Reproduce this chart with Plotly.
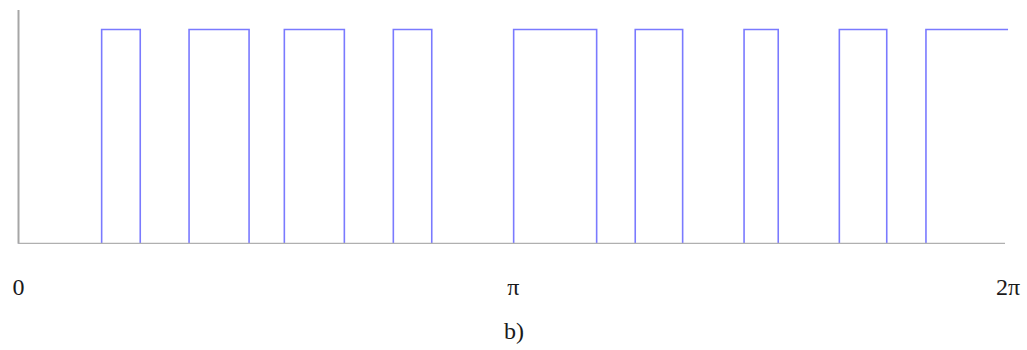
import math
import plotly.graph_objects as go

# Switching instants (radians) of the pulse train; the level toggles at each one,
# starting low at 0 and finishing high at 2π.
switch_angles = [0.528, 0.773, 1.083, 1.464, 1.688, 2.069, 2.380, 2.624,
                 3.144, 3.671, 3.916, 4.217, 4.607, 4.824, 5.212, 5.513, 5.762]
period_end = 2 * math.pi
axis_x_end = 6.264
axis_y_top = 1.091

tick_values = [0, math.pi, 2 * math.pi]
tick_labels = ["0", "π", "2π"]
caption = "b)"

# Build the step signal
xs = [0.0] + switch_angles + [period_end]
ys = [0]
level = 0
for _ in switch_angles:
    level = 1 - level
    ys.append(level)
ys.append(level)

fig = go.Figure()
fig.add_trace(go.Scatter(
    x=xs, y=ys, mode="lines", line_shape="hv",
    line=dict(color="rgb(122,122,255)", width=1.6),
    hoverinfo="skip", showlegend=False,
))

# Axis lines drawn over the trace so the low level sits under the baseline
fig.add_shape(type="line", x0=0, x1=0, y0=0, y1=axis_y_top,
              line=dict(color="#a6a6a6", width=2), layer="above")
fig.add_shape(type="line", x0=0, x1=axis_x_end, y0=0, y1=0,
              line=dict(color="#b0b0b0", width=1.8), layer="above")

fig.add_annotation(text=caption, xref="paper", yref="paper",
                   x=514 / 1027, y=-0.372, xanchor="center", yanchor="middle",
                   showarrow=False,
                   font=dict(family="Liberation Serif", size=24, color="#1a1a1a"))

px_per_rad = 157.49
fig.update_layout(
    width=1027, height=350,
    margin=dict(l=0, r=0, t=10, b=106, pad=0),
    paper_bgcolor="white", plot_bgcolor="white",
    xaxis=dict(range=[-18.5 / px_per_rad, (1027 - 18.5) / px_per_rad],
               tickvals=tick_values, ticktext=tick_labels,
               showgrid=False, zeroline=False, showline=False, ticks="",
               ticklabelstandoff=26,
               tickfont=dict(family="Liberation Serif", size=24, color="#1a1a1a")),
    yaxis=dict(range=[-0.0014, axis_y_top], showgrid=False, zeroline=False,
               showline=False, showticklabels=False, ticks=""),
)

fig.write_html("out.html")
